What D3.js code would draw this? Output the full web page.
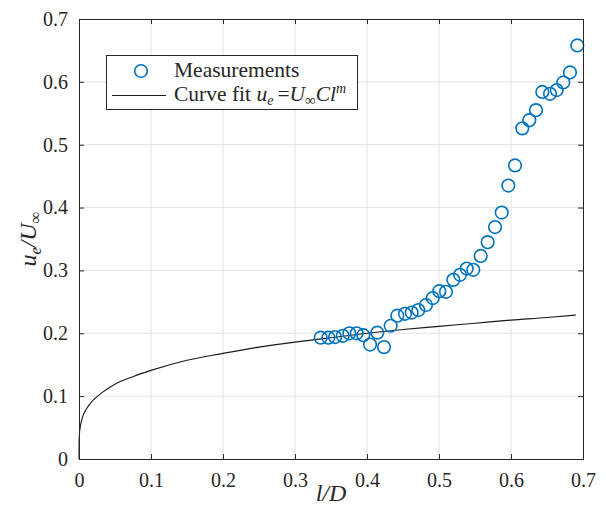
<!DOCTYPE html>
<html>
<head>
<meta charset="utf-8">
<script src="https://cdn.jsdelivr.net/npm/d3@7"></script>
<style>
  html, body { margin: 0; padding: 0; background: #fff; }
  svg text { font-family: "Liberation Serif", "Times New Roman", serif; fill: #262626; }
</style>
</head>
<body>
<svg id="chart" width="606" height="519"></svg>
<script>
const measL = [0.3357, 0.3463, 0.3556, 0.3663, 0.3754, 0.3857, 0.3949, 0.4042, 0.4143, 0.4236,
               0.4329, 0.4421, 0.4528, 0.4621, 0.4713, 0.4819, 0.4913, 0.5004, 0.5097, 0.5199,
               0.5292, 0.5385, 0.5476, 0.5579, 0.5676, 0.5778, 0.5871, 0.5963, 0.6056, 0.6157,
               0.6254, 0.6347, 0.6435, 0.6542, 0.6635, 0.6726, 0.6819, 0.6921];
const measU = [0.193, 0.193, 0.194, 0.196, 0.200, 0.200, 0.197, 0.182, 0.201, 0.178,
               0.212, 0.228, 0.231, 0.233, 0.237, 0.245, 0.256, 0.267, 0.266, 0.285,
               0.293, 0.303, 0.301, 0.323, 0.345, 0.369, 0.392, 0.435, 0.467, 0.526,
               0.539, 0.555, 0.584, 0.581, 0.587, 0.599, 0.615, 0.658];
// Curve fit
const fitL = [0, 0.0001, 0.001, 0.005, 0.01, 0.02, 0.03, 0.05, 0.075, 0.1, 0.15, 0.2, 0.25, 0.3,
              0.35, 0.4, 0.45, 0.5, 0.55, 0.6, 0.65, 0.69];
const fitU = [0, 0.025, 0.045, 0.067, 0.079, 0.094, 0.104, 0.119, 0.131, 0.141, 0.157, 0.168, 0.178, 0.186,
              0.193, 0.200, 0.206, 0.211, 0.216, 0.221, 0.225, 0.229];
// Ticks
const xTicks = [0, 0.1, 0.2, 0.3, 0.4, 0.5, 0.6, 0.7];
const yTicks = [0, 0.1, 0.2, 0.3, 0.4, 0.5, 0.6, 0.7];

const svg = d3.select("#chart");
const m = {left: 79, top: 19, right: 583, bottom: 459};
const x = d3.scaleLinear().domain([0, 0.7]).range([m.left, m.right]);
const y = d3.scaleLinear().domain([0, 0.7]).range([m.bottom, m.top]);
const axisColor = "#262626";
const fs = 20;

// grid
const g = svg.append("g");
g.selectAll(".gx").data(xTicks.slice(1, -1)).enter().append("line")
  .attr("x1", d => x(d)).attr("x2", d => x(d)).attr("y1", m.top).attr("y2", m.bottom)
  .attr("stroke", "#e3e3e3").attr("stroke-width", 1);
g.selectAll(".gy").data(yTicks.slice(1, -1)).enter().append("line")
  .attr("y1", d => y(d)).attr("y2", d => y(d)).attr("x1", m.left).attr("x2", m.right)
  .attr("stroke", "#e3e3e3").attr("stroke-width", 1);

// fit curve
const fitData = fitL.map((l, i) => [l, fitU[i]]);
svg.append("path").datum(fitData)
  .attr("d", d3.line().x(d => x(d[0])).y(d => y(d[1])).curve(d3.curveMonotoneX))
  .attr("fill", "none").attr("stroke", "#1a1a1a").attr("stroke-width", 1.1);

// measurements
svg.selectAll(".pt").data(measL.map((l, i) => [l, measU[i]])).enter().append("circle")
  .attr("cx", d => x(d[0])).attr("cy", d => y(d[1])).attr("r", 6.3)
  .attr("fill", "none").attr("stroke", "#0072BD").attr("stroke-width", 1.6);

// axes (bottom/left with labels, top/right mirrored)
const tickLen = 5;
const axB = svg.append("g").attr("transform", `translate(0,${m.bottom})`)
  .call(d3.axisBottom(x).tickValues(xTicks).tickSize(-tickLen).tickPadding(14).tickFormat(d => d === 0 ? "0" : d3.format(".1f")(d)));
const axL = svg.append("g").attr("transform", `translate(${m.left},0)`)
  .call(d3.axisLeft(y).tickValues(yTicks).tickSize(-tickLen).tickPadding(11).tickFormat(d => d === 0 ? "0" : d3.format(".1f")(d)));
const axT = svg.append("g").attr("transform", `translate(0,${m.top})`)
  .call(d3.axisTop(x).tickValues(xTicks).tickSize(-tickLen).tickFormat(""));
const axR = svg.append("g").attr("transform", `translate(${m.right},0)`)
  .call(d3.axisRight(y).tickValues(yTicks).tickSize(-tickLen).tickFormat(""));
[axB, axL, axT, axR].forEach(a => {
  a.select(".domain").attr("stroke", axisColor).attr("stroke-width", 1);
  a.selectAll(".tick line").attr("stroke", axisColor);
  a.selectAll("text").attr("font-family", "Liberation Serif").attr("font-size", fs).attr("fill", axisColor);
});
axB.selectAll("text").attr("dy", "0.71em");

// axis labels
svg.append("text").attr("x", x(0.35)).attr("y", 501).attr("text-anchor", "middle")
  .attr("font-size", 24).attr("font-style", "italic").text("l/D");

const yl = svg.append("text").attr("transform", `translate(36,${y(0.35)}) rotate(-90)`)
  .attr("text-anchor", "middle").attr("font-size", 24).attr("font-style", "italic");
yl.append("tspan").text("u");
yl.append("tspan").attr("font-size", 16).attr("dy", 5).text("e");
yl.append("tspan").attr("dy", -5).text("/U");
yl.append("tspan").attr("font-size", 17).attr("dy", 5).attr("font-style", "normal").text("∞");

// legend
const lg = svg.append("g");
const lfs = 21.5;
lg.append("rect").attr("x", 106.5).attr("y", 55.5).attr("width", 251).attr("height", 54)
  .attr("fill", "#fff").attr("stroke", axisColor).attr("stroke-width", 1);
lg.append("circle").attr("cx", 141).attr("cy", 71).attr("r", 6.3)
  .attr("fill", "none").attr("stroke", "#0072BD").attr("stroke-width", 1.6);
lg.append("line").attr("x1", 112).attr("x2", 166).attr("y1", 95.5).attr("y2", 95.5)
  .attr("stroke", "#1a1a1a").attr("stroke-width", 1.1);
lg.append("text").attr("x", 174).attr("y", 77).attr("font-size", lfs).text("Measurements");
const t2 = lg.append("text").attr("x", 174).attr("y", 101).attr("font-size", lfs);
t2.append("tspan").text("Curve fit ");
t2.append("tspan").attr("font-style", "italic").text("u");
t2.append("tspan").attr("font-style", "italic").attr("font-size", 14).attr("dy", 4).text("e");
t2.append("tspan").attr("dy", -4).attr("dx", 4).text("=");
t2.append("tspan").attr("font-style", "italic").text("U");
t2.append("tspan").attr("font-size", 15).attr("dy", 4).text("∞");
t2.append("tspan").attr("font-style", "italic").attr("dy", -4).text("Cl");
t2.append("tspan").attr("font-style", "italic").attr("font-size", 14).attr("dy", -8).text("m");
</script>
</body>
</html>
